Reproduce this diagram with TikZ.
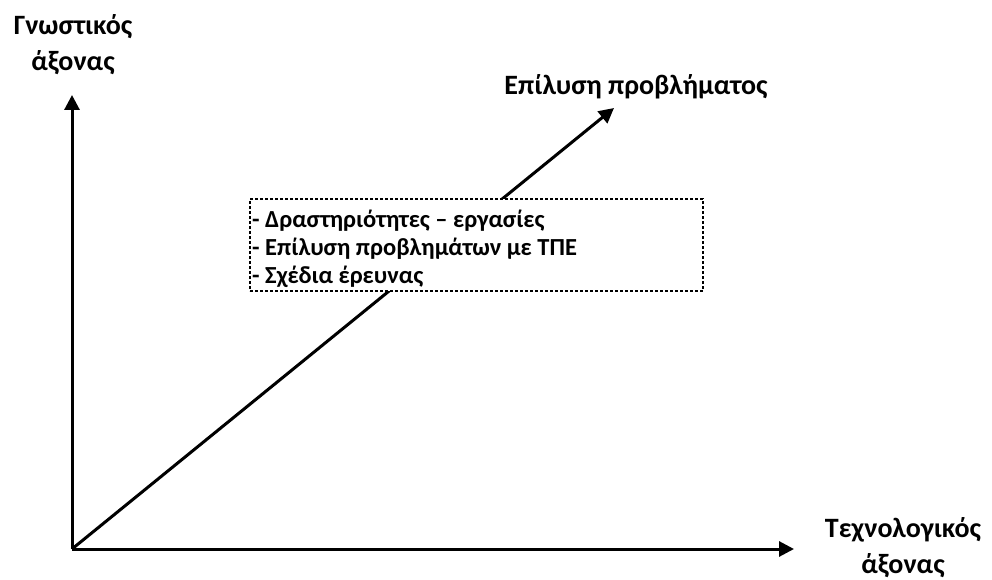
\documentclass[tikz,border=0pt]{standalone}
\usepackage{fontspec}
\setmainfont{Carlito}
\usetikzlibrary{arrows.meta}
\begin{document}
\begin{tikzpicture}[x=1pt,y=-1pt,
  axis/.style={line width=3pt,-{Triangle[length=15pt,width=15pt]}},
  lbl/.style={font=\fontsize{28}{36}\selectfont\bfseries,align=center,inner sep=0pt},
  boxtext/.style={font=\fontsize{24.5}{28}\selectfont\bfseries,align=left,inner sep=0pt}]
\useasboundingbox (0,0) rectangle (992,580);
\coordinate (O) at (72,549);
\coordinate (Y) at (72,95);
\coordinate (X) at (794,549);
\coordinate (D) at (614,108);
\draw[axis] (O) -- (Y);
\draw[axis] (O) -- (X);
\draw[axis] (O) -- (D);
\node[draw,line width=2.8pt,dash pattern=on 2.8pt off 2.2pt,fill=white,minimum width=453pt,minimum height=92pt,inner sep=0pt] (box) at (476.5,245) {};
\node[boxtext,anchor=base west] (t1) at (252,227) {- Δραστηριότητες – εργασίες};
\node[boxtext,anchor=base west] (t2) at (252,255) {- Επίλυση προβλημάτων με ΤΠΕ};
\node[boxtext,anchor=base west] (t3) at (252,283) {- Σχέδια έρευνας};
\node[lbl] (ylab) at (73,45) {Γνωστικός\\άξονας};
\node[lbl] (dlab) at (636,87) {Επίλυση προβλήματος};
\node[lbl] (xlab) at (903,548) {Τεχνολογικός\\άξονας};
\end{tikzpicture}
\end{document}
